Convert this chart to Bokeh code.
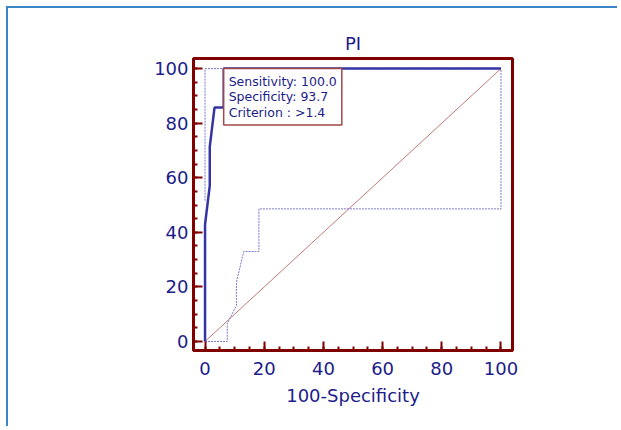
from bokeh.plotting import figure
from bokeh.models import SingleIntervalTicker, Label, Range1d
from bokeh.embed import file_html
from bokeh.resources import INLINE

# ROC curve (100-Specificity, Sensitivity)
roc_x = [0, 0, 1.6, 1.6, 3.2, 6.3, 6.3, 100]
roc_y = [0, 42.9, 57.1, 71.4, 85.7, 85.7, 100, 100]

# confidence bounds (dotted)
upper_x = [0, 0, 100]
upper_y = [51.6, 100, 100]
lower_x = [0, 7.5, 7.5, 10.6, 10.6, 13.1, 18.2, 18.2, 100, 100]
lower_y = [0, 0, 6.6, 13.2, 21.7, 33, 33, 48.6, 48.6, 100]

# reference diagonal
diag_x = [0, 100]
diag_y = [0, 100]

# optimal criterion point
crit_x = 6.3
crit_y = 100
crit_text = "Sensitivity: 100.0\nSpecificity: 93.7\nCriterion : >1.4"

NAVY = "#1c1c8a"
DARKRED = "#800000"
FONT = "DejaVu Sans"

p = figure(width=611, height=420, output_backend="svg", toolbar_location=None,
           x_range=Range1d(-3.9, 103.9), y_range=Range1d(-3.3, 103.7),
           min_border_left=185, min_border_right=107, min_border_top=50,
           min_border_bottom=78, title="PI")
p.margin = (6, 0, 0, 6)
p.styles = {"border-top": "2px solid #3a86c6", "border-left": "2px solid #3a86c6"}

p.title.align = "center"
p.title.text_font = FONT
p.title.text_font_size = "18px"
p.title.text_font_style = "normal"
p.title.text_color = NAVY
p.title.standoff = 10

p.grid.visible = False
p.outline_line_color = DARKRED
p.outline_line_width = 3
p.background_fill_color = "white"
p.border_fill_color = "white"

for ax in (p.xaxis[0], p.yaxis[0]):
    ax.ticker = SingleIntervalTicker(interval=20, num_minor_ticks=4)
    ax.axis_line_color = DARKRED
    ax.axis_line_width = 3
    ax.major_tick_line_color = DARKRED
    ax.major_tick_line_width = 2
    ax.minor_tick_line_color = DARKRED
    ax.minor_tick_line_width = 2
    ax.major_tick_in = 9
    ax.major_tick_out = 0
    ax.minor_tick_in = 4
    ax.minor_tick_out = 0
    ax.major_label_text_font = FONT
    ax.major_label_text_font_size = "18px"
    ax.major_label_text_color = NAVY
    ax.axis_label_text_font = FONT
    ax.axis_label_text_font_size = "18px"
    ax.axis_label_text_font_style = "normal"
    ax.axis_label_text_color = NAVY

p.xaxis.axis_label = "100-Specificity"
p.xaxis.major_label_standoff = 11
p.xaxis.axis_label_standoff = 7
p.yaxis.major_label_standoff = 5

p.line(diag_x, diag_y, line_color="#c07878", line_width=1)
p.line(upper_x, upper_y, line_color="#7878cc", line_width=1, line_dash="2 1")
p.line(lower_x, lower_y, line_color="#7878cc", line_width=1, line_dash="2 1")
p.line(roc_x, roc_y, line_color="#3434a4", line_width=2.5)

lab = Label(x=crit_x, y=crit_y, text=crit_text, anchor="top_left",
            text_font=FONT, text_font_size="12.5px", text_color=NAVY,
            text_line_height=1.05,
            background_fill_color="white", border_line_color="#a04848",
            border_line_width=1.5, padding=5)
p.add_layout(lab)

open("out.html", "w").write(file_html(p, INLINE))
